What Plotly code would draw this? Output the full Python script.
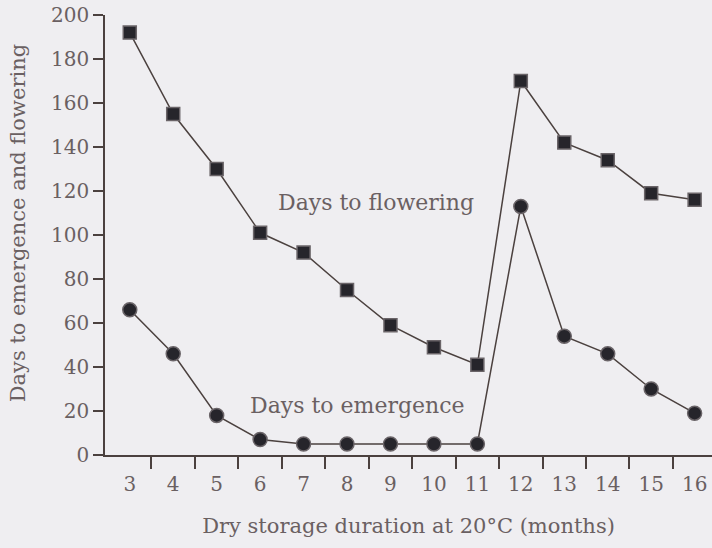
import plotly.graph_objects as go

months = [3, 4, 5, 6, 7, 8, 9, 10, 11, 12, 13, 14, 15, 16]
days_to_flowering = [192, 155, 130, 101, 92, 75, 59, 49, 41, 170, 142, 134, 119, 116]
days_to_emergence = [66, 46, 18, 7, 5, 5, 5, 5, 5, 113, 54, 46, 30, 19]
y_ticks = [0, 20, 40, 60, 80, 100, 120, 140, 160, 180, 200]

BG = "#efeef1"
TXT = "#6a6062"
LINE = "#4b413f"
FONT = "DejaVu Serif"

fig = go.Figure()
fig.add_trace(go.Scatter(
    x=months, y=days_to_flowering, mode="lines+markers",
    line=dict(color=LINE, width=1.5),
    marker=dict(symbol="square", size=13, color="#26252b",
                line=dict(color="#6a6468", width=1.5)),
    showlegend=False))
fig.add_trace(go.Scatter(
    x=months, y=days_to_emergence, mode="lines+markers",
    line=dict(color=LINE, width=1.5),
    marker=dict(symbol="circle", size=14, color="#26252b",
                line=dict(color="#6a6468", width=1.5)),
    showlegend=False))

fig.add_annotation(x=8.67, y=115, text="Days to flowering", showarrow=False,
                   font=dict(family=FONT, size=22, color=TXT))
fig.add_annotation(x=8.23, y=22.7, text="Days to emergence", showarrow=False,
                   font=dict(family=FONT, size=22, color=TXT))
fig.add_annotation(xref="paper", yref="paper", x=-0.143, y=0.527,
                   xanchor="center", yanchor="middle", textangle=-90,
                   text="Days to emergence and flowering", showarrow=False,
                   font=dict(family=FONT, size=21, color=TXT))

fig.update_layout(
    width=712, height=548,
    margin=dict(l=105, r=0, t=15, b=93),
    paper_bgcolor=BG, plot_bgcolor=BG,
    font=dict(family=FONT, size=20, color=TXT),
    xaxis=dict(
        range=[2.43, 16.4], tickvals=months, ticks="", showgrid=False,
        zeroline=False, showline=True, linecolor=LINE, linewidth=1.5,
        ticklabelstandoff=10,
        minor=dict(tickvals=[m + 0.5 for m in months[:-1]], ticks="outside",
                   ticklen=12, tickcolor=LINE, tickwidth=1.5, showgrid=False),
        title=dict(text="Dry storage duration at 20°C (months)",
                   font=dict(family=FONT, size=21, color=TXT), standoff=24),
    ),
    yaxis=dict(
        range=[0, 200], tickvals=y_ticks, ticks="outside", ticklen=10,
        tickcolor=LINE, tickwidth=1.5, showgrid=False, zeroline=False,
        showline=True, linecolor=LINE, linewidth=1.5,
    ),
)

fig.write_html(
    "out.html",
    config={"displayModeBar": False},
    post_script="document.body.style.margin='0';document.body.style.background='%s';" % BG,
)
